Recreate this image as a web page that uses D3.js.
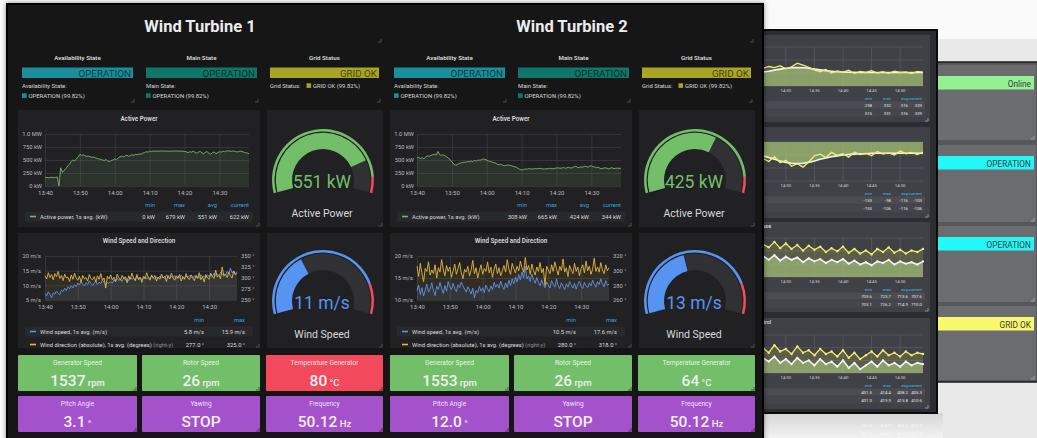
<!DOCTYPE html>
<html>
<head>
<meta charset="utf-8">
<title>Wind Turbines</title>
<script src="https://cdn.jsdelivr.net/npm/d3@7"></script>
<style>
  body { margin: 0; background: #f8f8f8; }
  svg { display: block; font-family: Roboto, "Noto Sans", sans-serif; }
</style>
</head>
<body>
<script>

// ---------- data ----------
const turbineNames = ["Wind Turbine 1", "Wind Turbine 2"];
const statusTitles = ["Availability State", "Main State", "Grid Status"];
const statusValues = [["OPERATION", "OPERATION", "GRID OK"], ["OPERATION", "OPERATION", "GRID OK"]];
const statusShare = "99.82%";

const timeTicks = ["13:40", "13:50", "14:00", "14:10", "14:20", "14:30"];
const powerTicks = [0, 250, 500, 750, 1000];

// active power, kW, one sample every 30 s from 13:40
const powerT1 = [160,165,158,162,170,160,165,175,0,350,260,300,
  340,380,420,470,500,480,520,560,
  610,590,600,580,570,575,560,550,555,540,
  530,520,510,500,490,510,480,470,490,500,
  520,510,540,560,575,560,580,590,570,585,
  600,590,610,600,620,610,630,640,660,650,
  670,665,670,672,668,672,670,675,671,669,
  673,670,668,672,670,674,671,669,672,670,
  665,660,640,660,650,670,645,630,650,665,
  640,620,650,660,630,610,640,655,620,640,
  660,650,670,660,675,679,670,665,675,668,
  655,660,672,660,650,640,635,622];
const powerT2 = [540,550,530,545,520,560,580,570,590,600,
  610,595,665,600,590,600,580,560,540,500,
  470,420,400,410,430,440,450,460,455,470,
  465,480,470,490,480,500,495,505,520,510,
  500,480,470,460,450,440,420,410,420,400,
  390,395,405,400,390,380,370,360,340,320,
  308,315,330,320,335,330,325,330,335,330,
  340,335,330,325,335,330,340,335,330,340,
  345,350,340,345,355,340,350,360,345,350,
  370,380,360,350,370,360,380,375,360,380,
  390,370,365,350,360,340,330,345,350,340,
  330,345,350,335,340,344,338,344];
const powerStats = [["0 kW", "679 kW", "551 kW", "622 kW"], ["308 kW", "665 kW", "424 kW", "344 kW"]];

// wind speed (m/s) and direction (degrees), one sample every 30 s
const windSpeedT1 = [7.2,6.4,7.8,6.9,5.8,7.5,7.0,8.1,7.3,6.8,
  8.4,7.9,9.0,8.2,9.5,8.8,9.9,9.1,10.2,9.6,
  10.8,10.1,11.3,10.4,9.8,10.9,10.2,11.5,10.6,10.0,
  10.8,11.4,10.3,11.1,10.5,11.8,10.9,10.2,11.0,10.6,
  11.3,10.7,11.9,11.2,12.4,11.6,12.1,11.3,12.6,11.8,
  12.3,11.5,12.8,12.0,12.5,11.7,13.1,12.2,12.7,11.9,
  12.4,13.0,12.1,12.8,12.3,13.4,12.6,12.0,12.9,12.4,
  13.2,12.5,12.9,12.2,13.6,12.7,12.3,13.1,12.6,13.3,
  12.4,13.0,12.7,13.5,12.8,12.2,13.2,12.6,13.4,12.9,
  12.5,13.3,12.7,13.1,12.4,13.6,12.9,13.2,12.6,13.5,
  13.0,13.8,12.9,14.2,13.4,13.9,13.2,14.5,13.6,14.1,
  13.5,14.8,13.9,15.9,14.2,14.9,14.0,14.6];
const windDirT1 = [305,298,312,301,308,296,310,303,315,299,
  306,294,309,300,302,292,307,297,311,300,
  295,304,290,306,298,301,293,308,299,296,
  303,291,305,297,310,295,300,277,304,298,
  307,296,302,292,309,300,295,306,299,303,
  289,305,297,311,300,294,308,296,302,290,
  304,298,312,301,295,307,299,306,293,302,
  297,309,300,304,292,306,298,311,301,295,
  305,299,308,293,303,297,310,300,296,307,
  301,294,306,299,312,296,303,291,308,300,
  297,311,303,299,318,302,306,298,325,304,
  309,301,313,305,300,316,307,311];
const windSpeedT2 = [12.1,13.4,11.2,12.8,10.9,12.3,13.6,11.8,12.5,13.9,
  12.2,11.0,13.1,12.4,14.0,12.7,11.5,13.3,12.0,14.2,
  13.0,12.4,13.8,12.6,11.9,13.5,12.8,14.1,13.2,12.5,
  11.8,13.0,12.3,11.4,12.7,10.5,12.2,11.6,13.1,12.0,
  12.8,11.7,13.4,12.5,11.9,13.2,12.4,14.0,12.9,13.6,
  12.7,14.3,13.1,12.4,13.9,12.8,14.5,13.3,14.8,13.7,
  15.2,14.1,15.8,14.6,16.4,15.0,17.6,14.8,15.5,14.2,
  15.9,14.7,13.8,15.1,14.0,13.2,14.6,13.5,12.8,14.1,
  13.4,12.7,14.4,13.6,12.9,14.8,13.3,12.6,13.9,13.1,
  12.4,13.7,12.9,14.2,13.4,12.7,13.8,12.5,13.6,14.3,
  13.1,12.6,14.0,13.3,12.8,13.9,13.2,14.5,13.6,12.9,
  14.2,13.5,14.8,13.7,13.0,14.4,13.3,13.6];
const windDirT2 = [306,292,310,297,285,303,299,312,294,301,
  296,308,290,304,298,315,302,293,307,299,
  305,291,300,309,295,303,311,297,289,302,
  298,306,293,301,314,296,304,290,300,308,
  295,303,299,312,297,305,291,302,309,296,
  304,293,300,307,298,315,302,295,310,303,
  297,306,300,313,304,298,318,301,307,295,
  309,300,294,305,299,311,297,303,280,306,
  301,296,308,299,312,303,294,306,300,316,
  298,304,292,307,301,296,310,299,305,293,
  303,308,297,313,300,306,295,302,317,299,
  305,298,311,301,296,308,300,304];
const windSpeedTicks = [[5, 10, 15, 20], [10, 15, 20]];
const windDirTicks = [[250, 275, 300, 325, 350], [260, 280, 300, 320]];
const windStats = [[["5.8 m/s", "15.9 m/s"], ["277.0 °", "325.0 °"]],
                   [["10.5 m/s", "17.6 m/s"], ["280.0 °", "318.0 °"]]];

const gaugePower = [551, 425];
const gaugePowerRange = [0, 680, 620];   // min, max, red threshold
const gaugeWind = [11, 13];
const gaugeWindRange = [0, 30, 25];

const statTitles = ["Generator Speed", "Rotor Speed", "Temperature Generator", "Pitch Angle", "Yawing", "Frequency"];
const statValues = [["1537", "26", "80", "3.1", "STOP", "50.12"], ["1553", "26", "64", "12.0", "STOP", "50.12"]];
const statUnits = ["rpm", "rpm", "°C", "°", "", "Hz"];
const statLevels = [["ok", "ok", "alert", "info", "info", "info"], ["ok", "ok", "ok", "info", "info", "info"]];

// background dashboards (behind the main window)
const bgTicks = ["14:30", "14:35", "14:40", "14:45", "14:50"];
const bgYellowA = [318,325,321,328,316,324,338,330,322,312,305,314,300,308,303,311,298,306,302,309,300,305,299,307,302,304,298,306,303];
const bgWhiteA = [304,307,311,315,318,320,321,320,318,315,312,309,307,305,304,303,303,302,302,302,302,302,302,302,302,302,302,302,302];
const bgYellowB = [-128,-135,-124,-138,-132,-146,-140,-148,-136,-122,-118,-126,-114,-121,-117,-125,-113,-119,-116,-122,-112,-118,-115,-120,-111,-117,-114,-119,-113];
const bgWhiteB = [-122,-126,-130,-134,-137,-139,-140,-139,-137,-134,-130,-127,-124,-122,-120,-119,-118,-117,-117,-116,-116,-116,-116,-116,-116,-116,-116,-116,-116];
const bgYellowC = [732,728,735,727,733,726,731,724,730,725,729,722,727,723,729,721,726,720,724,719,726,722,728,721,725,720,724,722,726];
const bgWhiteC = [717,712,718,711,716,712,715,709,714,710,713,708,712,709,713,707,711,706,709,705,710,708,712,706,710,707,709,706,710];
const bgYellowD = [415,411,417,412,414,410,416,411,413,409,414,410,412,408,413,407,411,406,409,412,408,413,409,411,408,412,409,411,410];
const bgWhiteD = [407,404,408,403,406,402,407,403,405,401,406,402,404,400,405,399,403,398,401,404,400,405,401,403,400,404,401,403,402];
const bgStats = [
  [["298", "332", "316", "339"], ["315", "331", "316", "339"]],
  [["-153", "-98", "-116", "-103"], ["-153", "-106", "-116", "-106"]],
  [["703.6", "723.7", "713.6", "707.6"], ["703.1", "726.2", "714.9", "710.0"]],
  [["401.5", "414.4", "408.2", "405.3"], ["401.0", "419.9", "413.8", "410.6"]]
];
const bgStatusLabels = ["Online", "OPERATION", "OPERATION", "GRID OK"];

// ---------- colours ----------
const C = {
  dash: "#161719", panel: "#212124", row: "#28292d", grid: "#3a3b3f",
  text: "#d8d9da", axis: "#b9babc", head: "#33a2e5",
  green: "#73bf69", line: "#7eb26d", blue: "#5794f2", wblue: "#5f93e2", yellow: "#e5b83a",
  red: "#f2495c", purple: "#a352cc", gaugeBg: "#313134",
  teal: "#1a8e9b", mainTeal: "#0f7769", olive: "#a8a424"
};
const statusColors = [C.teal, C.mainTeal, C.olive];
const levelColors = { ok: C.green, alert: C.red, info: C.purple };

const parseHM = d3.timeParse("%H:%M");
const t0 = parseHM("13:40");
const at = i => new Date(+t0 + i * 30000);
const bgStart = parseHM("14:26");
const bgAt = i => new Date(+bgStart + i * 60000);

const svg = d3.select("body").append("svg").attr("width", 1037).attr("height", 438);
const defs = svg.append("defs");
defs.append("filter").attr("id", "shadow").attr("x", -0.05).attr("y", -0.05).attr("width", 1.1).attr("height", 1.1)
  .append("feDropShadow").attr("dx", 0).attr("dy", 0).attr("stdDeviation", 2.5)
  .attr("flood-color", "#000").attr("flood-opacity", 0.45);
const floor = defs.append("linearGradient").attr("id", "floor").attr("x1", 0).attr("y1", 0).attr("x2", 0).attr("y2", 1);
floor.append("stop").attr("offset", "0%").attr("stop-color", "#d6d6d6");
floor.append("stop").attr("offset", "100%").attr("stop-color", "#f2f2f2");

// page backdrop
svg.append("rect").attr("width", 1037).attr("height", 438).attr("fill", "#fafafa");
svg.append("rect").attr("x", 900).attr("y", 39).attr("width", 137).attr("height", 399).attr("fill", "#e9e9e9");
svg.append("rect").attr("x", 763).attr("y", 413).attr("width", 180).attr("height", 25).attr("fill", "url(#floor)");

function corner(g, x, y, col) {
  g.append("path").attr("d", `M${x - 3},${y} L${x},${y} L${x},${y - 3}`)
    .attr("stroke", col || "#4c4d52").attr("fill", "none").attr("stroke-width", 1);
}

function styleAxis(sel, size, col) {
  sel.attr("font-family", null);
  sel.select(".domain").remove();
  sel.selectAll(".tick line").attr("stroke", C.grid).attr("stroke-width", 0.8);
  sel.selectAll(".tick text").attr("fill", col || C.axis).attr("font-size", size);
}

// ---------- window 3 (far back) ----------
const w3 = svg.append("g");
w3.append("rect").attr("x", 900).attr("y", 62).attr("width", 150).attr("height", 320)
  .attr("fill", "#56575b").attr("stroke", "#1b1b1d").attr("stroke-width", 1.5);
const w3Panels = [[65, 140], [145, 222], [226, 302], [306, 380]];
const w3Colors = ["#93f193", "#22f8f8", "#22f8f8", "#f8f86f"];
w3Panels.forEach((p, i) => {
  w3.append("rect").attr("x", 905).attr("y", p[0]).attr("width", 131).attr("height", p[1] - p[0]).attr("fill", "#6b6c70");
  w3.append("rect").attr("x", 905).attr("y", p[0] + 11).attr("width", 129).attr("height", 13.5).attr("fill", w3Colors[i]);
  w3.append("text").attr("x", 1031).attr("y", p[0] + 21.5).attr("text-anchor", "end")
    .attr("font-size", 8.3).attr("fill", "#3a3a3a").text(bgStatusLabels[i]);
  corner(w3, 1034, p[1] - 1, "#9a9a9e");
});

// ---------- window 2 (middle) ----------
const w2 = svg.append("g");
w2.append("rect").attr("x", 700).attr("y", 30).attr("width", 237).attr("height", 383)
  .attr("fill", "#2c2d31").attr("stroke", "#0b0b0c").attr("stroke-width", 2);
const bgPanels = [
  { top: 35, bottom: 122, py: [47, 86], domain: [250, 400], yellow: bgYellowA, white: bgWhiteA, neg: false, dots: false },
  { top: 127, bottom: 218, py: [142, 181], domain: [-180, -90], yellow: bgYellowB, white: bgWhiteB, neg: true, dots: false },
  { top: 222, bottom: 312, py: [238, 277], domain: [690, 740], yellow: bgYellowC, white: bgWhiteC, neg: false, dots: true, title: "Voltage Phase" },
  { top: 318, bottom: 409, py: [335, 373], domain: [395, 425], yellow: bgYellowD, white: bgWhiteD, neg: false, dots: true, title: "Pitch Control" }
];
const bx = d3.scaleTime().domain([bgStart, bgAt(28)]).range([763, 923]);
bgPanels.forEach((p, k) => {
  const g = w2.append("g");
  g.append("rect").attr("x", 700).attr("y", p.top).attr("width", 230).attr("height", p.bottom - p.top).attr("fill", "#404146");
  if (p.title) {
    g.append("text").attr("x", 771).attr("y", p.top + 6).attr("text-anchor", "end")
      .attr("font-size", 5.2).attr("font-weight", 600).attr("fill", "#ddd").text(p.title);
  }
  const y = d3.scaleLinear().domain(p.domain).range([p.py[1], p.py[0]]);
  const hTicks = d3.range(4).map(j => p.domain[0] + j * (p.domain[1] - p.domain[0]) / 3);
  g.selectAll(".hg").data(hTicks).enter().append("line")
    .attr("x1", 700).attr("x2", 923).attr("y1", d => y(d)).attr("y2", d => y(d))
    .attr("stroke", "#5c5d62").attr("stroke-width", 0.7);
  g.selectAll(".vg").data(bgTicks.map(parseHM)).enter().append("line")
    .attr("x1", d => bx(d)).attr("x2", d => bx(d)).attr("y1", p.py[0]).attr("y2", p.py[1])
    .attr("stroke", "#5c5d62").attr("stroke-width", 0.7);
  const base = p.neg ? y(p.domain[1]) : y(p.domain[0]);
  const area = d3.area().x((d, i) => bx(bgAt(i))).y0(base).y1(d => y(d));
  const line = d3.line().x((d, i) => bx(bgAt(i))).y(d => y(d));
  g.append("path").attr("d", area(p.white)).attr("fill", "#8fb07a").attr("opacity", 0.75);
  g.append("path").attr("d", area(p.yellow)).attr("fill", "#d8d860").attr("opacity", 0.18);
  g.append("path").attr("d", line(p.white)).attr("fill", "none").attr("stroke", "#f2f5f8").attr("stroke-width", 1.6);
  g.append("path").attr("d", line(p.yellow)).attr("fill", "none").attr("stroke", "#f1ef6a").attr("stroke-width", 1.3);
  if (p.dots) {
    g.selectAll(".dot").data(p.yellow).enter().append("circle")
      .attr("cx", (d, i) => bx(bgAt(i))).attr("cy", d => y(d)).attr("r", 1.2).attr("fill", "#f1ef6a");
    g.selectAll(".wdot").data(p.white).enter().append("circle")
      .attr("cx", (d, i) => bx(bgAt(i))).attr("cy", d => y(d)).attr("r", 1.1).attr("fill", "#f2f5f8");
  }
  g.selectAll(".xl").data(bgTicks).enter().append("text")
    .attr("x", d => bx(parseHM(d))).attr("y", p.py[1] + 5.5).attr("text-anchor", "middle")
    .attr("font-size", 4.3).attr("fill", "#d0d0d0").text(d => d);
  const cols = [872, 891, 908, 922];
  ["min", "max", "avg", "current"].forEach((h, j) => {
    g.append("text").attr("x", cols[j]).attr("y", p.py[1] + 13.5).attr("text-anchor", "end")
      .attr("font-size", 4.3).attr("fill", "#33c5e5").text(h);
  });
  bgStats[k].forEach((row, r) => {
    const ry = p.py[1] + 20.5 + r * 8;
    g.append("rect").attr("x", 700).attr("y", ry - 5.2).attr("width", 225).attr("height", 7.5)
      .attr("fill", r === 0 ? "#4b4c51" : "#45464b");
    row.forEach((v, j) => {
      g.append("text").attr("x", cols[j]).attr("y", ry).attr("text-anchor", "end")
        .attr("font-size", 4.3).attr("fill", "#e6e6e6").text(v);
    });
  });
  corner(g, 928, p.bottom - 1, "#8d8e92");
});
// faint reflection below window 2
[[427, ["402.0", "414.9", "413.2", "412.9"]], [435, ["407.3", "414.4", "410.7", "410.3"]]].forEach(r => {
  [872, 891, 908, 922].forEach((x, j) => {
    svg.append("text").attr("x", x).attr("y", r[0]).attr("text-anchor", "end")
      .attr("font-size", 4.3).attr("fill", "#ffffff").attr("opacity", 0.7).text(r[1][j]);
  });
});

// ---------- main window ----------
const main = svg.append("g");
main.append("rect").attr("x", 7).attr("y", 4).attr("width", 756).attr("height", 440)
  .attr("fill", C.dash).attr("stroke", "#050506").attr("stroke-width", 2).attr("filter", "url(#shadow)");

const fmtPower = v => v >= 1000 ? (v / 1000).toFixed(1) + " MW" : v + " kW";

function gauge(g, cx, cy, value, range, color, valueText, label) {
  const a = d3.scaleLinear().domain([range[0], range[1]]).range([-105 * Math.PI / 180, 105 * Math.PI / 180]).clamp(true);
  const arc = d3.arc();
  const gg = g.append("g").attr("transform", `translate(${cx},${cy})`);
  gg.append("path").attr("d", arc({ innerRadius: 48.4, outerRadius: 51, startAngle: a(range[0]), endAngle: a(range[2]) })).attr("fill", color);
  gg.append("path").attr("d", arc({ innerRadius: 48.4, outerRadius: 51, startAngle: a(range[2]), endAngle: a(range[1]) })).attr("fill", C.red);
  gg.append("path").attr("d", arc({ innerRadius: 31, outerRadius: 47.2, startAngle: a(range[0]), endAngle: a(range[1]) })).attr("fill", C.gaugeBg);
  gg.append("path").attr("d", arc({ innerRadius: 31, outerRadius: 47.2, startAngle: a(range[0]), endAngle: a(value) })).attr("fill", color);
  gg.append("text").attr("x", -1).attr("y", 8).attr("text-anchor", "middle").attr("font-size", 17.5)
    .attr("fill", color).text(valueText);
  gg.append("text").attr("x", -1).attr("y", 36.5).attr("text-anchor", "middle").attr("font-size", 10.5)
    .attr("fill", C.text).text(label);
}

function legendRow(g, x0, y, color, name, extra, values, cols, shaded) {
  if (shaded) g.append("rect").attr("x", x0 + 7).attr("y", y - 7).attr("width", 228).attr("height", 10).attr("fill", C.row);
  g.append("line").attr("x1", x0 + 12).attr("x2", x0 + 18).attr("y1", y - 2).attr("y2", y - 2)
    .attr("stroke", color).attr("stroke-width", 1.6);
  const t = g.append("text").attr("x", x0 + 22).attr("y", y).attr("font-size", 5.8).attr("fill", C.text).text(name);
  if (extra) t.append("tspan").attr("fill", "#8e8f92").text("  " + extra);
  values.forEach((v, j) => {
    g.append("text").attr("x", cols[j]).attr("y", y).attr("text-anchor", "end")
      .attr("font-size", 5.8).attr("fill", C.text).text(v);
  });
}

turbineNames.forEach((name, t) => {
  const dx = t * 372;
  const g = main.append("g");

  // title
  g.append("text").attr("x", 200 + dx).attr("y", 31.5).attr("text-anchor", "middle")
    .attr("font-size", 16.5).attr("font-weight", 700).attr("fill", "#ececec").text(name);
  corner(g, 381 + dx, 42);

  // status panels
  const barX = [22, 146, 270], barW = [111, 111, 109];
  statusTitles.forEach((title, j) => {
    const x0 = barX[j] + dx;
    g.append("text").attr("x", x0 + barW[j] / 2).attr("y", 59.5).attr("text-anchor", "middle")
      .attr("font-size", 6.2).attr("font-weight", 600).attr("fill", C.text).text(title);
    g.append("rect").attr("x", x0).attr("y", 67.5).attr("width", barW[j]).attr("height", 10.5).attr("fill", statusColors[j]);
    g.append("text").attr("x", x0 + barW[j] - 2).attr("y", 76.8).attr("text-anchor", "end")
      .attr("font-size", 9.8).attr("fill", "rgba(0,0,0,0.62)").text(statusValues[t][j]);
    if (j < 2) {
      g.append("text").attr("x", x0).attr("y", 88).attr("font-size", 5.9).attr("fill", C.text).text(title + ":");
      g.append("rect").attr("x", x0).attr("y", 93.3).attr("width", 4.6).attr("height", 4.6).attr("fill", statusColors[j]);
      g.append("text").attr("x", x0 + 6.5).attr("y", 98).attr("font-size", 5.9).attr("fill", C.text)
        .text(`${statusValues[t][j]} (${statusShare})`);
    } else {
      g.append("text").attr("x", x0).attr("y", 88).attr("font-size", 5.9).attr("fill", C.text).text(title + ":");
      g.append("rect").attr("x", x0 + 36.5).attr("y", 83.3).attr("width", 4.6).attr("height", 4.6).attr("fill", statusColors[j]);
      g.append("text").attr("x", x0 + 43).attr("y", 88).attr("font-size", 5.9).attr("fill", C.text)
        .text(`${statusValues[t][j]} (${statusShare})`);
    }
    corner(g, barX[j] + barW[j] + dx + 1, 102);
  });

  // ----- Active power graph -----
  g.append("rect").attr("x", 18 + dx).attr("y", 110).attr("width", 242).attr("height", 117).attr("fill", C.panel);
  g.append("text").attr("x", 139 + dx).attr("y", 120.5).attr("text-anchor", "middle")
    .attr("font-size", 6.3).attr("font-weight", 600).attr("fill", C.text).text("Active Power");
  const power = t === 0 ? powerT1 : powerT2;
  const px = d3.scaleTime().domain([t0, at(power.length - 1)]).range([45 + dx, 249 + dx]);
  const py = d3.scaleLinear().domain([0, 1000]).range([186, 134]);
  g.append("g").attr("transform", `translate(${45 + dx},0)`)
    .call(d3.axisLeft(py).tickValues(powerTicks).tickFormat(fmtPower).tickSize(-204).tickPadding(3))
    .call(s => styleAxis(s, 5.8));
  g.append("g").attr("transform", "translate(0,186)")
    .call(d3.axisBottom(px).tickValues(timeTicks.map(parseHM)).tickFormat(d3.timeFormat("%H:%M")).tickSize(-52).tickPadding(4.5))
    .call(s => styleAxis(s, 6));
  g.append("path").attr("d", d3.area().x((d, i) => px(at(i))).y0(py(0)).y1(d => py(d))(power))
    .attr("fill", C.line).attr("opacity", 0.12);
  g.append("path").attr("d", d3.line().x((d, i) => px(at(i))).y(d => py(d))(power))
    .attr("fill", "none").attr("stroke", C.line).attr("stroke-width", 0.9);
  const pcols = [155, 185, 217, 249].map(v => v + dx);
  ["min", "max", "avg", "current"].forEach((h, j) => {
    g.append("text").attr("x", pcols[j]).attr("y", 207).attr("text-anchor", "end")
      .attr("font-size", 5.8).attr("fill", C.head).text(h);
  });
  legendRow(g, 18 + dx, 218.5, C.line, "Active power, 1s avg. (kW)", null, powerStats[t], pcols, true);
  corner(g, 259 + dx, 226);

  // ----- power gauge -----
  g.append("rect").attr("x", 267 + dx).attr("y", 110).attr("width", 116).attr("height", 117).attr("fill", C.panel);
  gauge(g, 323 + dx, 180, gaugePower[t], gaugePowerRange, C.green, gaugePower[t] + " kW", "Active Power");
  corner(g, 382 + dx, 226);

  // ----- wind graph -----
  g.append("rect").attr("x", 18 + dx).attr("y", 233).attr("width", 242).attr("height", 115).attr("fill", C.panel);
  g.append("text").attr("x", 139 + dx).attr("y", 243).attr("text-anchor", "middle")
    .attr("font-size", 6.3).attr("font-weight", 600).attr("fill", C.text).text("Wind Speed and Direction");
  const speed = t === 0 ? windSpeedT1 : windSpeedT2;
  const dir = t === 0 ? windDirT1 : windDirT2;
  const sTicks = windSpeedTicks[t], dTicks = windDirTicks[t];
  const wx = d3.scaleTime().domain([t0, at(speed.length - 1)]).range([45 + dx, 237 + dx]);
  const ws = d3.scaleLinear().domain([sTicks[0], sTicks[sTicks.length - 1]]).range([300, 256]);
  const wd = d3.scaleLinear().domain([dTicks[0], dTicks[dTicks.length - 1]]).range([300, 256]);
  g.append("g").attr("transform", `translate(${45 + dx},0)`)
    .call(d3.axisLeft(ws).tickValues(sTicks).tickFormat(d => d + " m/s").tickSize(-192).tickPadding(4))
    .call(s => styleAxis(s, 5.8));
  g.append("g").attr("transform", `translate(${237 + dx},0)`)
    .call(d3.axisRight(wd).tickValues(dTicks).tickFormat(d => d + " °").tickSize(0).tickPadding(4))
    .call(s => styleAxis(s, 5.8));
  g.append("g").attr("transform", "translate(0,300)")
    .call(d3.axisBottom(wx).tickValues(timeTicks.map(parseHM)).tickFormat(d3.timeFormat("%H:%M")).tickSize(-44).tickPadding(4.5))
    .call(s => styleAxis(s, 6));
  g.append("path").attr("d", d3.area().x((d, i) => wx(at(i))).y0(300).y1(d => ws(d))(speed))
    .attr("fill", C.wblue).attr("opacity", 0.1);
  g.append("path").attr("d", d3.area().x((d, i) => wx(at(i))).y0(300).y1(d => wd(d))(dir))
    .attr("fill", C.yellow).attr("opacity", 0.08);
  g.append("path").attr("d", d3.line().x((d, i) => wx(at(i))).y(d => ws(d))(speed))
    .attr("fill", "none").attr("stroke", C.wblue).attr("stroke-width", 0.9);
  g.append("path").attr("d", d3.line().x((d, i) => wx(at(i))).y(d => wd(d))(dir))
    .attr("fill", "none").attr("stroke", C.yellow).attr("stroke-width", 0.9);
  const wcols = [204, 245].map(v => v + dx);
  ["min", "max"].forEach((h, j) => {
    g.append("text").attr("x", wcols[j]).attr("y", 322).attr("text-anchor", "end")
      .attr("font-size", 5.8).attr("fill", C.head).text(h);
  });
  legendRow(g, 18 + dx, 333.5, C.wblue, "Wind speed, 1s avg. (m/s)", null, windStats[t][0], wcols, true);
  legendRow(g, 18 + dx, 346.5, C.yellow, "Wind direction (absolute), 1s avg. (degrees)", "(right-y)", windStats[t][1], wcols, false);
  corner(g, 259 + dx, 347);

  // ----- wind gauge -----
  g.append("rect").attr("x", 267 + dx).attr("y", 233).attr("width", 116).attr("height", 115).attr("fill", C.panel);
  gauge(g, 323 + dx, 301, gaugeWind[t], gaugeWindRange, C.blue, gaugeWind[t] + " m/s", "Wind Speed");
  corner(g, 382 + dx, 347);

  // ----- stat panels -----
  const sx = [18, 142, 266], sw = [119, 118, 117], sy = [355, 396];
  statTitles.forEach((title, j) => {
    const x0 = sx[j % 3] + dx, y0 = sy[Math.floor(j / 3)], w = sw[j % 3];
    g.append("rect").attr("x", x0).attr("y", y0).attr("width", w).attr("height", 36)
      .attr("rx", 1).attr("fill", levelColors[statLevels[t][j]]);
    g.append("text").attr("x", x0 + w / 2).attr("y", y0 + 10).attr("text-anchor", "middle")
      .attr("font-size", 6.6).attr("fill", "rgba(255,255,255,0.85)").text(title);
    const v = g.append("text").attr("x", x0 + w / 2).attr("y", y0 + 31).attr("text-anchor", "middle")
      .attr("font-size", 15.5).attr("font-weight", 500).attr("fill", "#f0f0f0").text(statValues[t][j]);
    if (statUnits[j]) v.append("tspan").attr("font-size", 9.5).text(" " + statUnits[j]);
    corner(g, x0 + w - 1, y0 + 35, "rgba(0,0,0,0.45)");
  });
});

</script>
</body>
</html>
